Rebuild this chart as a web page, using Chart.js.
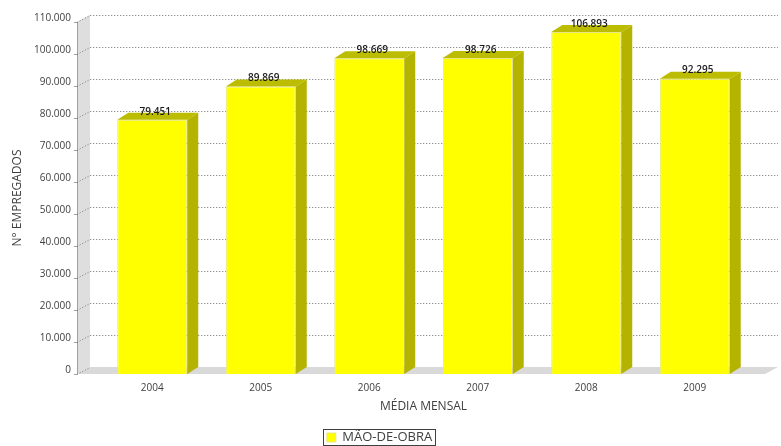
<!DOCTYPE html>
<html>
<head>
<meta charset="utf-8">
<script src="https://cdn.jsdelivr.net/npm/chart.js@4.4.1/dist/chart.umd.min.js"></script>
<style>
  html, body { margin: 0; padding: 0; background: #fff; }
  #wrap { width: 781px; height: 446px; }
</style>
</head>
<body>
<div id="wrap"><canvas id="chart"></canvas></div>
<script>
// Data
const anos = ['2004', '2005', '2006', '2007', '2008', '2009'];
const maoDeObra = [79451, 89869, 98669, 98726, 106893, 92295];
const serieNome = 'MÃO-DE-OBRA';
const yMax = 110000;
const yStep = 10000;

const FONT = '"Open Sans", "DejaVu Sans", sans-serif';

// 1.234 style thousands
function fmt(v) {
  return String(Math.round(v)).replace(/\B(?=(\d{3})+(?!\d))/g, '.');
}

// wall/floor depth and bar depth
const WALL_DX = 13, WALL_DY = 7;
const BAR_DX = 11, BAR_DY = 7;

const threeD = {
  id: 'threeD',
  beforeDatasetsDraw(chart) {
    const ctx = chart.ctx;
    const { top, bottom, right, left } = chart.chartArea;
    const y = chart.scales.y;
    const axisX = left - 21;
    const endX = right + 16;

    ctx.save();
    // left wall
    ctx.fillStyle = '#dedede';
    ctx.beginPath();
    ctx.moveTo(axisX, top);
    ctx.lineTo(axisX + WALL_DX, top - WALL_DY);
    ctx.lineTo(axisX + WALL_DX, bottom - WALL_DY);
    ctx.lineTo(axisX, bottom);
    ctx.closePath();
    ctx.fill();
    // floor
    ctx.fillStyle = '#d9d9d9';
    ctx.beginPath();
    ctx.moveTo(axisX, bottom);
    ctx.lineTo(axisX + WALL_DX, bottom - WALL_DY);
    ctx.lineTo(endX + WALL_DX, bottom - WALL_DY);
    ctx.lineTo(endX, bottom);
    ctx.closePath();
    ctx.fill();

    // axis line
    ctx.strokeStyle = '#a0a0a0';
    ctx.lineWidth = 1;
    ctx.beginPath();
    ctx.moveTo(axisX + 0.5, top);
    ctx.lineTo(axisX + 0.5, bottom);
    ctx.stroke();

    // gridlines on back wall
    ctx.strokeStyle = '#707070';
    ctx.setLineDash([1, 2]);
    for (let v = 0; v <= yMax; v += yStep) {
      const yy = Math.round(y.getPixelForValue(v)) + 0.5;
      ctx.beginPath();
      ctx.moveTo(axisX, yy);
      ctx.lineTo(axisX + WALL_DX, yy - WALL_DY);
      if (v > 0) ctx.lineTo(endX + WALL_DX, yy - WALL_DY);
      ctx.stroke();
    }
    ctx.setLineDash([]);
    // small ticks
    ctx.strokeStyle = '#a0a0a0';
    for (let v = 0; v <= yMax; v += yStep) {
      const yy = Math.round(y.getPixelForValue(v)) + 0.5;
      ctx.beginPath();
      ctx.moveTo(axisX - 3, yy);
      ctx.lineTo(axisX, yy);
      ctx.stroke();
    }
    ctx.restore();
  },
  afterDatasetsDraw(chart) {
    const ctx = chart.ctx;
    const meta = chart.getDatasetMeta(0);
    ctx.save();
    meta.data.forEach((bar, i) => {
      const p = bar.getProps(['x', 'y', 'base', 'width'], true);
      const x0 = p.x - p.width / 2, x1 = p.x + p.width / 2;
      // side
      ctx.fillStyle = '#b3b300';
      ctx.beginPath();
      ctx.moveTo(x1, p.y);
      ctx.lineTo(x1 + BAR_DX, p.y - BAR_DY);
      ctx.lineTo(x1 + BAR_DX, p.base - BAR_DY);
      ctx.lineTo(x1, p.base);
      ctx.closePath();
      ctx.fill();
      // top
      ctx.fillStyle = '#bcbc00';
      ctx.beginPath();
      ctx.moveTo(x0, p.y);
      ctx.lineTo(x0 + BAR_DX, p.y - BAR_DY);
      ctx.lineTo(x1 + BAR_DX, p.y - BAR_DY);
      ctx.lineTo(x1, p.y);
      ctx.closePath();
      ctx.fill();
      // value label
      ctx.fillStyle = '#1a1a1a';
      ctx.font = '600 10px ' + FONT;
      ctx.textAlign = 'center';
      ctx.textBaseline = 'middle';
      ctx.fillText(fmt(maoDeObra[i]), p.x + 3, p.y - 8);
    });
    ctx.restore();
  },
  afterDraw(chart) {
    // legend frame
    const lg = chart.legend;
    if (!lg || !lg.legendHitBoxes || !lg.legendHitBoxes.length) return;
    const hb = lg.legendHitBoxes[0];
    const ctx = chart.ctx;
    ctx.save();
    ctx.strokeStyle = '#404040';
    ctx.lineWidth = 1;
    ctx.strokeRect(Math.round(hb.left) - 3.5, Math.round(hb.top) - 1.5, Math.round(hb.width) + 7, Math.round(hb.height) + 3);
    ctx.restore();
  }
};

new Chart(document.getElementById('chart'), {
  type: 'bar',
  data: {
    labels: anos,
    datasets: [{
      label: serieNome,
      data: maoDeObra,
      backgroundColor: '#ffff00',
      borderColor: '#e6e68a',
      borderWidth: 1,
      barPercentage: 0.645,
      categoryPercentage: 1.0
    }]
  },
  options: {
    responsive: true,
    maintainAspectRatio: false,
    animation: false,
    layout: { padding: { left: 10, right: 32, top: 22, bottom: -8 } },
    plugins: {
      tooltip: { enabled: false },
      legend: {
        position: 'bottom',
        labels: {
          boxWidth: 9,
          boxHeight: 9,
          color: '#404040',
          font: { family: FONT, size: 13 },
          padding: 4
        }
      }
    },
    scales: {
      x: {
        grid: { display: false, drawTicks: false },
        border: { display: false },
        ticks: { color: '#404040', font: { family: FONT, size: 10 }, padding: 8 },
        title: { display: true, text: 'MÉDIA MENSAL', color: '#404040', font: { family: FONT, size: 12 }, padding: { top: 2, bottom: 13 } },
        afterFit: s => { s.height = 53; }
      },
      y: {
        min: 0,
        max: yMax,
        grid: { display: false, drawTicks: false },
        border: { display: false },
        ticks: {
          stepSize: yStep,
          color: '#404040',
          font: { family: FONT, size: 10 },
          padding: 27,
          labelOffset: -4,
          callback: v => fmt(v)
        },
        title: { display: true, text: 'N° EMPREGADOS', color: '#404040', font: { family: FONT, size: 12 }, padding: { top: 0, bottom: 4 } },
        afterFit: s => { s.width = 88; s.paddingTop = 0; s.paddingBottom = 0; }
      }
    }
  },
  plugins: [threeD]
});
</script>
</body>
</html>
